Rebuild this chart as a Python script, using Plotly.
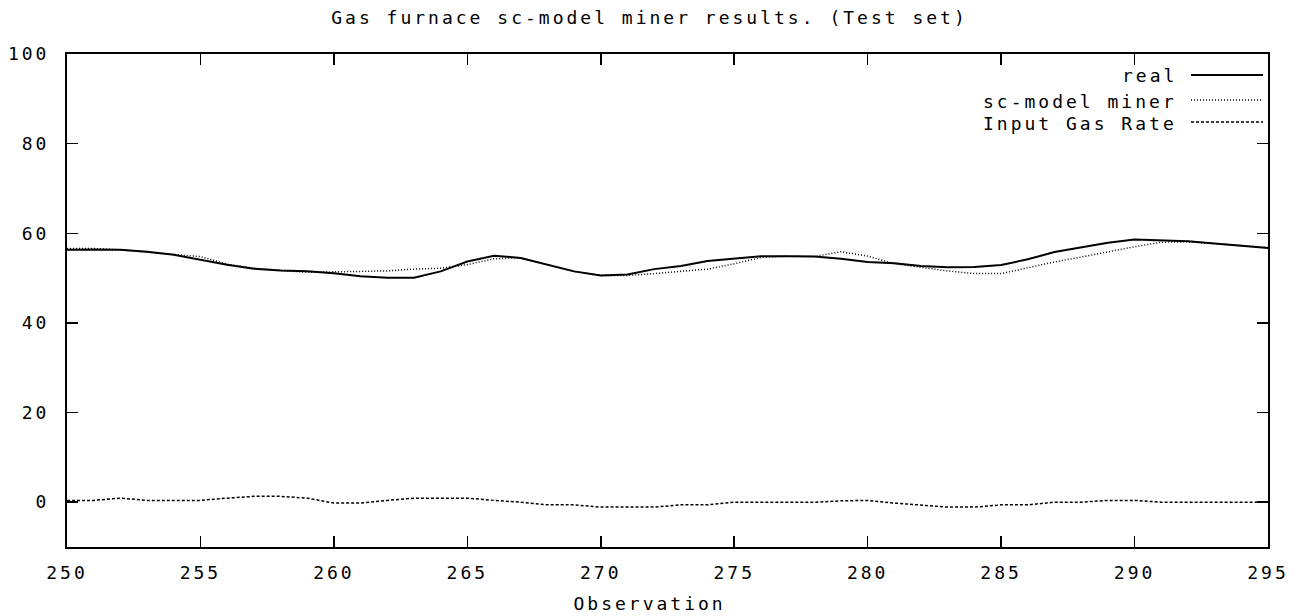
import plotly.graph_objects as go

observation = list(range(250, 296))
real = [56.3, 56.4, 56.3, 55.9, 55.2, 54.1, 53.0, 52.1, 51.7, 51.5,
        51.1, 50.4, 50.1, 50.1, 51.5, 53.7, 55.0, 54.5, 53.0, 51.5,
        50.6, 50.8, 52.0, 52.7, 53.8, 54.4, 54.9, 54.9, 54.8, 54.3,
        53.6, 53.3, 52.7, 52.4, 52.5, 52.9, 54.2, 55.8, 56.8, 57.9,
        58.6, 58.4, 58.2, 57.7, 57.2, 56.7]
sc_model = [56.6, 56.6, 56.3, 55.8, 55.4, 54.8, 53.1, 52.2, 51.7, 51.3,
            51.4, 51.5, 51.6, 52.0, 52.2, 53.0, 54.3, 54.5, 53.0, 51.5,
            50.6, 50.6, 51.0, 51.5, 52.0, 53.2, 54.6, 54.9, 54.8, 55.9,
            54.9, 53.2, 52.4, 51.6, 51.0, 51.0, 52.3, 53.6, 54.7, 55.9,
            57.0, 58.0, 58.1, 57.7, 57.2, 56.8]
gas_rate = [0.4, 0.4, 0.9, 0.4, 0.4, 0.4, 0.9, 1.3, 1.3, 0.9,
            -0.2, -0.2, 0.4, 0.9, 0.9, 0.9, 0.4, 0.0, -0.6, -0.6,
            -1.1, -1.1, -1.1, -0.6, -0.6, 0.0, 0.0, 0.0, 0.0, 0.3,
            0.4, -0.2, -0.6, -1.1, -1.1, -0.6, -0.6, 0.0, 0.0, 0.4,
            0.4, 0.0, 0.0, 0.0, 0.0, 0.0]

series_names = ["real", "sc-model miner", "Input Gas Rate"]
title_text = "Gas furnace sc-model miner results. (Test set)"
x_title = "Observation"

W, H = 1299, 616
L, R, T, B = 67, 1268, 54, 547
FONT = "DejaVu Sans Mono"
CHAR_W = 13.84  # advance incl. letter spacing

def px2paper_x(px):
    return (px - L) / (R - L)

def px2paper_y(py):
    return (B - py) / (B - T)

styles = [
    dict(color="black", width=2),
    dict(color="black", width=1.5, dash="1px,2px"),
    dict(color="black", width=1.5, dash="3px,2px"),
]

fig = go.Figure()
for name, ys, st in zip(series_names, [real, sc_model, gas_rate], styles):
    fig.add_trace(go.Scatter(x=observation, y=ys, mode="lines", name=name,
                             line=st, showlegend=False))

# gnuplot-style legend (text right-aligned, sample on the right)
row_y = [75, 100, 122]
shapes = []
annotations = []
for name, st, py in zip(series_names, styles, row_y):
    shapes.append(dict(type="line", xref="paper", yref="paper",
                       x0=px2paper_x(1191), x1=px2paper_x(1263),
                       y0=px2paper_y(py), y1=px2paper_y(py),
                       line=st))
    cx = 1177 - len(name) * CHAR_W / 2
    annotations.append(dict(text=name, xref="paper", yref="paper",
                            x=px2paper_x(cx), y=px2paper_y(py + 1),
                            xanchor="center", yanchor="middle", showarrow=False,
                            font=dict(family=FONT, size=18, color="black")))

# x-axis label (gnuplot centres it on the canvas)
annotations.append(dict(text=x_title, xref="paper", yref="paper",
                        x=px2paper_x(W / 2), y=px2paper_y(603),
                        xanchor="center", yanchor="middle", showarrow=False,
                        font=dict(family=FONT, size=18, color="black")))

axis_common = dict(showline=True, linecolor="black", linewidth=2, mirror="ticks",
                   ticks="inside", ticklen=11, tickwidth=1.5, tickcolor="black",
                   showgrid=False, zeroline=False,
                   tickfont=dict(family=FONT, size=18, color="black"))

fig.update_layout(
    width=W, height=H,
    margin=dict(l=L, r=W - R, t=T, b=H - B, autoexpand=False),
    paper_bgcolor="white", plot_bgcolor="white",
    font=dict(family=FONT, size=18, color="black"),
    title=dict(text=title_text, x=0.5, xref="container", y=1 - 18 / H, yref="container",
               xanchor="center", yanchor="middle",
               font=dict(family=FONT, size=18, color="black")),
    xaxis=dict(range=[250, 295], tick0=250, dtick=5, ticklabelstandoff=8,
               **axis_common),
    yaxis=dict(range=[-10, 100], tick0=0, dtick=20, ticklabelstandoff=12,
               **axis_common),
    shapes=shapes,
    annotations=annotations,
    hovermode=False,
)

post = ("document.body.style.margin='0';"
        "var s=document.createElement('style');"
        "s.textContent='svg text{letter-spacing:3px;}';"
        "document.head.appendChild(s);")
fig.write_html("out.html", post_script=post,
               config={"displayModeBar": False, "staticPlot": True})
